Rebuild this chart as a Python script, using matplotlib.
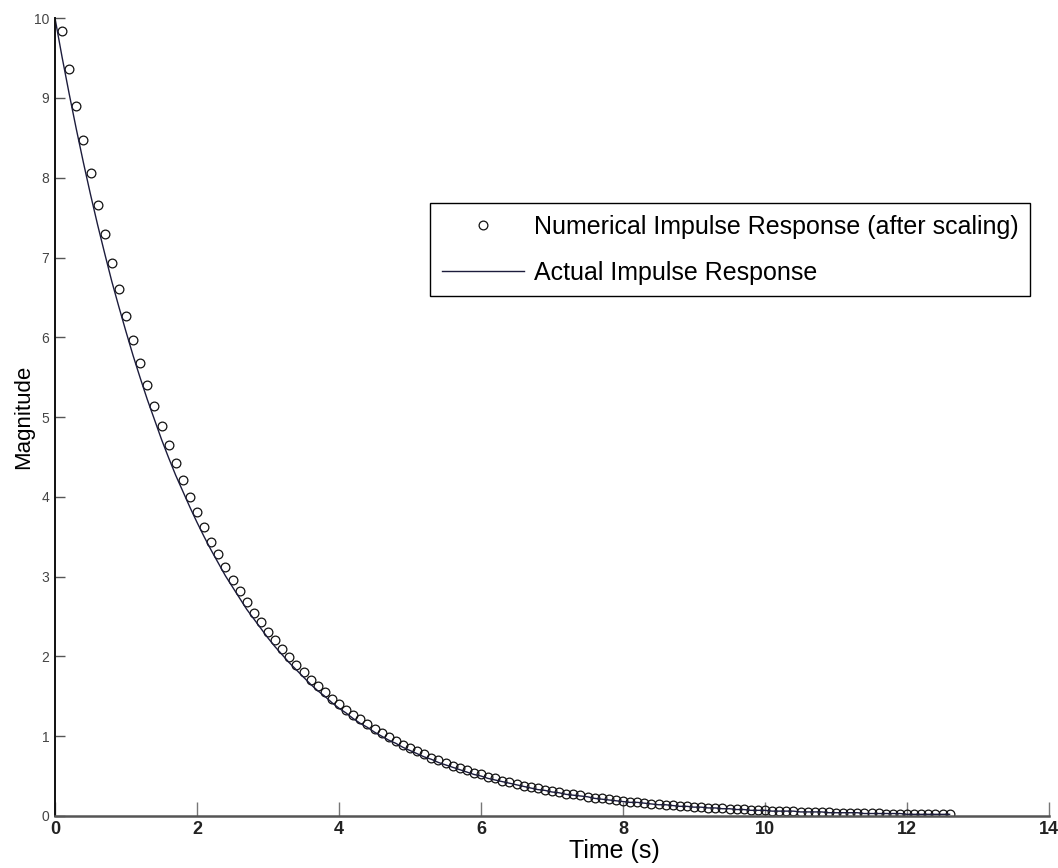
#!/usr/bin/env python3
"""
Impulse response: numerical samples (after scaling) against the actual response.
"""

import matplotlib
matplotlib.use('Agg')
import matplotlib.pyplot as plt
import numpy as np

# sample step of both series (s)
dt = 0.1

# numerical impulse response, one value every 0.1 s starting at t = 0.1 s
numerical = [
    9.84, 9.36, 8.90, 8.47, 8.06, 7.66, 7.29, 6.93, 6.60, 6.27,
    5.97, 5.68, 5.40, 5.14, 4.89, 4.65, 4.42, 4.21, 4.00, 3.81,
    3.62, 3.44, 3.28, 3.12, 2.96, 2.82, 2.68, 2.55, 2.43, 2.31,
    2.20, 2.09, 1.99, 1.89, 1.80, 1.71, 1.63, 1.55, 1.47, 1.40,
    1.33, 1.27, 1.21, 1.15, 1.09, 1.04, 0.99, 0.94, 0.89, 0.85,
    0.81, 0.77, 0.73, 0.70, 0.66, 0.63, 0.60, 0.57, 0.54, 0.52,
    0.49, 0.47, 0.44, 0.42, 0.40, 0.38, 0.36, 0.35, 0.33, 0.31,
    0.30, 0.28, 0.27, 0.26, 0.24, 0.23, 0.22, 0.21, 0.20, 0.19,
    0.18, 0.17, 0.16, 0.155, 0.148, 0.140, 0.134, 0.127, 0.121, 0.115,
    0.109, 0.104, 0.099, 0.094, 0.090, 0.085, 0.081, 0.077, 0.073, 0.070,
    0.066, 0.063, 0.060, 0.057, 0.054, 0.052, 0.049, 0.047, 0.044, 0.042,
    0.040, 0.038, 0.036, 0.035, 0.033, 0.031, 0.030, 0.028, 0.027, 0.026,
    0.024, 0.023, 0.022, 0.021, 0.020, 0.019,
]

# actual impulse response, one value every 0.1 s starting at t = 0
actual = [
    10.00, 9.51, 9.05, 8.61, 8.19, 7.79, 7.41, 7.05, 6.70, 6.38,
    6.07, 5.77, 5.49, 5.22, 4.97, 4.72, 4.49, 4.27, 4.07, 3.87,
    3.68, 3.50, 3.33, 3.17, 3.01, 2.87, 2.73, 2.59, 2.47, 2.35,
    2.23, 2.12, 2.02, 1.92, 1.83, 1.74, 1.65, 1.57, 1.50, 1.42,
    1.35, 1.29, 1.22, 1.16, 1.11, 1.05, 1.00, 0.95, 0.91, 0.86,
    0.82, 0.78, 0.74, 0.71, 0.67, 0.64, 0.61, 0.58, 0.55, 0.52,
    0.50, 0.47, 0.45, 0.43, 0.41, 0.39, 0.37, 0.35, 0.33, 0.32,
    0.30, 0.29, 0.27, 0.26, 0.25, 0.24, 0.22, 0.21, 0.20, 0.19,
    0.18, 0.17, 0.17, 0.16, 0.15, 0.14, 0.14, 0.13, 0.12, 0.12,
    0.11, 0.11, 0.10, 0.10, 0.09, 0.09, 0.08, 0.08, 0.07, 0.07,
    0.07, 0.06, 0.06, 0.06, 0.06, 0.05, 0.05, 0.05, 0.05, 0.04,
    0.04, 0.04, 0.04, 0.04, 0.03, 0.03, 0.03, 0.03, 0.03, 0.03,
    0.02, 0.02, 0.02, 0.02, 0.02, 0.02, 0.02,
]

x_ticks = [0, 2, 4, 6, 8, 10, 12, 14]
y_ticks = [0, 1, 2, 3, 4, 5, 6, 7, 8, 9, 10]

t_num = dt * np.arange(1, len(numerical) + 1)
t_act = dt * np.arange(len(actual))

plt.rcParams['font.family'] = ['Liberation Sans', 'DejaVu Sans']

fig = plt.figure(figsize=(10.58, 8.68), dpi=100)
ax = fig.add_axes([0.052, 0.06, 0.9395, 0.919])

ax.plot(t_num, numerical, linestyle='none', marker='o', markersize=6.3,
        markerfacecolor='none', markeredgecolor='#111111', markeredgewidth=0.9,
        label='Numerical Impulse Response (after scaling)')
ax.plot(t_act, actual, color='#1c1c3c', linewidth=1.0,
        label='Actual Impulse Response')

ax.set_xlim(0, 14)
ax.set_ylim(0, 10)
ax.set_xticks(x_ticks)
ax.set_yticks(y_ticks)

for side in ['top', 'right']:
    ax.spines[side].set_visible(False)
ax.spines['left'].set_color('#111111')
ax.spines['left'].set_linewidth(1.4)
ax.spines['bottom'].set_color('#555555')
ax.spines['bottom'].set_linewidth(1.8)

ax.tick_params(axis='x', direction='in', length=10, width=1, color='#777777', pad=4)
ax.tick_params(axis='y', direction='in', length=7, width=1, color='#555555', pad=4)
for lbl in ax.get_xticklabels():
    lbl.set_fontsize(13)
    lbl.set_fontweight('bold')
    lbl.set_color('#222222')
for lbl in ax.get_yticklabels():
    lbl.set_fontsize(10)
    lbl.set_color('#444444')

ax.set_xlabel('Time (s)', fontsize=18)
ax.set_ylabel('Magnitude', fontsize=16)
ax.xaxis.set_label_coords(0.563, -0.029)
ax.yaxis.set_label_coords(-0.021, 0.5)

leg = ax.legend(loc='upper right', bbox_to_anchor=(0.981, 0.768), borderaxespad=0,
                fontsize=18, fancybox=False, edgecolor='black', framealpha=1,
                handlelength=3.3, handletextpad=0.4, labelspacing=0.9,
                borderpad=0.45)
leg.get_frame().set_linewidth(1.0)

fig.savefig('out.png', dpi=100)
